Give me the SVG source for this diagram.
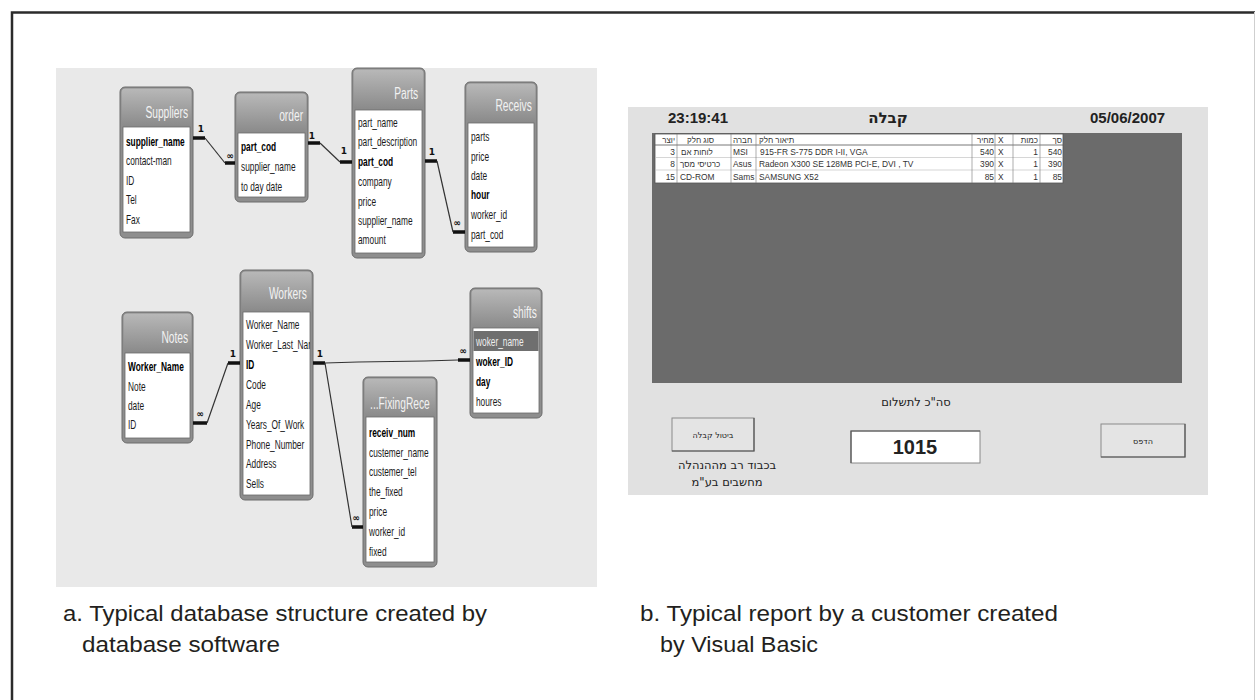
<svg xmlns="http://www.w3.org/2000/svg" width="1255" height="700" viewBox="0 0 1255 700">
<defs>
<linearGradient id="hg" x1="0" y1="0" x2="0" y2="1">
<stop offset="0" stop-color="#b8b8b8"/>
<stop offset="1" stop-color="#8a8a8a"/>
</linearGradient>
<clipPath id="wclip"><rect x="243" y="312" width="67" height="183"/></clipPath>
<style>
.fld{font-family:"Liberation Sans",Arial,sans-serif;font-size:13px;fill:#1a1a1a}
.b{font-weight:bold;fill:#000}
.ttl{font-family:"Liberation Sans",Arial,sans-serif;font-size:16px;fill:#f2f2f2;text-anchor:end}
.frame{fill:#8e8e8e;stroke:#6c6c6c;stroke-width:1}
.hdr{fill:url(#hg)}
.list{fill:#fff;stroke:#6a6a6a;stroke-width:0.8}
.thick{stroke:#111;stroke-width:3.5;fill:none}
.thin{stroke:#333;stroke-width:1.2;fill:none}
.card{font-family:"DejaVu Sans",sans-serif;font-size:9px;font-weight:bold;fill:#111;text-anchor:middle}
.tb{font-family:"Liberation Sans","DejaVu Sans",sans-serif;font-size:8.4px;fill:#333}
.he{font-family:"Liberation Sans","DejaVu Sans",sans-serif;font-size:8px;fill:#333}
.big{font-family:"Liberation Sans",Arial,sans-serif;font-weight:bold;fill:#222}
.heb{font-family:"DejaVu Sans","Liberation Sans",sans-serif;fill:#222}
.btn{fill:#e4e4e4;stroke:#8a8a8a;stroke-width:1}
.cap{font-family:"Liberation Sans",Arial,sans-serif;font-size:22px;fill:#231f20}
</style>
</defs>
<rect x="0" y="0" width="1255" height="700" fill="#ffffff"/>
<path d="M12,700 V12.5 H1255" fill="none" stroke="#2b2b2b" stroke-width="2.5"/>
<line x1="1254.5" y1="12" x2="1254.5" y2="700" stroke="#cfcfcf" stroke-width="1"/>

<!-- left panel -->
<rect x="56" y="68" width="541" height="519" fill="#e9e9e9"/>

<g id="suppliers">
<rect class="frame" x="120" y="87" width="73" height="151" rx="5"/>
<rect class="hdr" x="121.5" y="88.5" width="70" height="38" rx="4"/>
<rect class="list" x="123" y="127" width="67" height="105"/>
<g transform="translate(126,0) scale(0.64,1)">
<text class="ttl" x="97" y="118">Suppliers</text>
<text class="fld b" x="0" y="146">supplier_name</text>
<text class="fld" x="0" y="165.5">contact-man</text>
<text class="fld" x="0" y="185">ID</text>
<text class="fld" x="0" y="204.5">Tel</text>
<text class="fld" x="0" y="224">Fax</text>
</g>
</g>

<g id="order">
<rect class="frame" x="235" y="92" width="73" height="110" rx="5"/>
<rect class="hdr" x="236.5" y="93.5" width="70" height="39" rx="4"/>
<rect class="list" x="238" y="133" width="67" height="64"/>
<g transform="translate(241,0) scale(0.64,1)">
<text class="ttl" x="97" y="121">order</text>
<text class="fld b" x="0" y="151">part_cod</text>
<text class="fld" x="0" y="171">supplier_name</text>
<text class="fld" x="0" y="191">to day date</text>
</g>
</g>

<g id="parts">
<rect class="frame" x="352" y="68" width="73" height="190" rx="5"/>
<rect class="hdr" x="353.5" y="69.5" width="70" height="40" rx="4"/>
<rect class="list" x="355" y="110" width="67" height="143"/>
<g transform="translate(358,0) scale(0.64,1)">
<text class="ttl" x="94" y="99">Parts</text>
<text class="fld" x="0" y="127">part_name</text>
<text class="fld" x="0" y="146">part_description</text>
<text class="fld b" x="0" y="166">part_cod</text>
<text class="fld" x="0" y="186">company</text>
<text class="fld" x="0" y="206">price</text>
<text class="fld" x="0" y="225">supplier_name</text>
<text class="fld" x="0" y="244">amount</text>
</g>
</g>

<g id="receivs">
<rect class="frame" x="465" y="82" width="72" height="170" rx="5"/>
<rect class="hdr" x="466.5" y="83.5" width="69" height="39" rx="4"/>
<rect class="list" x="468" y="123" width="66" height="124"/>
<g transform="translate(471,0) scale(0.64,1)">
<text class="ttl" x="95" y="111">Receivs</text>
<text class="fld" x="0" y="141">parts</text>
<text class="fld" x="0" y="161">price</text>
<text class="fld" x="0" y="180">date</text>
<text class="fld b" x="0" y="199">hour</text>
<text class="fld" x="0" y="219">worker_id</text>
<text class="fld" x="0" y="239">part_cod</text>
</g>
</g>

<g id="notes">
<rect class="frame" x="122" y="312" width="71" height="131" rx="5"/>
<rect class="hdr" x="123.5" y="313.5" width="68" height="39" rx="4"/>
<rect class="list" x="125" y="353" width="65" height="85"/>
<g transform="translate(128,0) scale(0.64,1)">
<text class="ttl" x="94" y="343">Notes</text>
<text class="fld b" x="0" y="371">Worker_Name</text>
<text class="fld" x="0" y="391">Note</text>
<text class="fld" x="0" y="410">date</text>
<text class="fld" x="0" y="429">ID</text>
</g>
</g>

<g id="workers">
<rect class="frame" x="240" y="270" width="73" height="230" rx="5"/>
<rect class="hdr" x="241.5" y="271.5" width="70" height="40" rx="4"/>
<rect class="list" x="243" y="312" width="67" height="183"/>
<g clip-path="url(#wclip)">
<g transform="translate(246,0) scale(0.64,1)">
<text class="fld" x="0" y="329">Worker_Name</text>
<text class="fld" x="0" y="349">Worker_Last_Nar</text>
<text class="fld b" x="0" y="369">ID</text>
<text class="fld" x="0" y="389">Code</text>
<text class="fld" x="0" y="409">Age</text>
<text class="fld" x="0" y="429">Years_Of_Work</text>
<text class="fld" x="0" y="449">Phone_Number</text>
<text class="fld" x="0" y="468">Address</text>
<text class="fld" x="0" y="488">Sells</text>
</g>
</g>
<g transform="translate(246,0) scale(0.64,1)">
<text class="ttl" x="95" y="299">Workers</text>
</g>
</g>

<g id="shifts">
<rect class="frame" x="470" y="288" width="72" height="130" rx="5"/>
<rect class="hdr" x="471.5" y="289.5" width="69" height="38" rx="4"/>
<rect class="list" x="473" y="328" width="66" height="85"/>
<rect x="473.5" y="331" width="65" height="20" fill="#6f6f6f"/>
<g transform="translate(476,0) scale(0.64,1)">
<text class="ttl" x="95" y="318">shifts</text>
<text class="fld" x="0" y="346" style="fill:#eeeeee">woker_name</text>
<text class="fld b" x="0" y="366">woker_ID</text>
<text class="fld b" x="0" y="386">day</text>
<text class="fld" x="0" y="406">houres</text>
</g>
</g>

<g id="fixingrece">
<rect class="frame" x="363" y="377" width="74" height="190" rx="5"/>
<rect class="hdr" x="364.5" y="378.5" width="71" height="38" rx="4"/>
<rect class="list" x="366" y="417" width="68" height="145"/>
<g transform="translate(369,0) scale(0.64,1)">
<text class="ttl" x="95" y="409">...FixingRece</text>
<text class="fld b" x="0" y="437">receiv_num</text>
<text class="fld" x="0" y="457">custemer_name</text>
<text class="fld" x="0" y="476">custemer_tel</text>
<text class="fld" x="0" y="496">the_fixed</text>
<text class="fld" x="0" y="516">price</text>
<text class="fld" x="0" y="536">worker_id</text>
<text class="fld" x="0" y="556">fixed</text>
</g>
</g>

<g id="connectors">
<path class="thick" d="M193,138 H205 M225,163 H235"/>
<path class="thin" d="M205,138 L225,163"/>
<text class="card" x="201" y="132">1</text>
<text class="card" x="230" y="159">∞</text>

<path class="thick" d="M308,143 H320 M340,162 H352"/>
<path class="thin" d="M320,143 L340,162"/>
<text class="card" x="312" y="139">1</text>
<text class="card" x="344" y="154">1</text>

<path class="thick" d="M425,161 H437 M453,232 H465"/>
<path class="thin" d="M437,161 L453,232"/>
<text class="card" x="432" y="155">1</text>
<text class="card" x="457" y="226">∞</text>

<path class="thick" d="M193,423 H207 M228,363 H240"/>
<path class="thin" d="M207,423 L228,363"/>
<text class="card" x="200" y="417">∞</text>
<text class="card" x="233" y="357">1</text>

<path class="thick" d="M313,363 H325 M458,360 H470 M352,527 H363"/>
<path class="thin" d="M325,363 L358,362 L425,361 L458,360 M325,363 L352,527"/>
<text class="card" x="320" y="357">1</text>
<text class="card" x="463" y="354">∞</text>
<text class="card" x="356" y="521">∞</text>
</g>

<!-- right panel -->
<rect x="628" y="107" width="580" height="388" fill="#e1e1e1"/>
<rect x="652" y="133" width="530" height="250" fill="#6b6b6b"/>
<text class="big" x="668" y="123" font-size="15">23:19:41</text>
<text class="big" x="888" y="123" font-size="15" text-anchor="middle" style="font-family:'DejaVu Sans','Liberation Sans',sans-serif">קבלה</text>
<text class="big" x="1090" y="123" font-size="15">05/06/2007</text>

<g id="report-table">
<rect x="655" y="134" width="408" height="49" fill="#ffffff" stroke="#555" stroke-width="0.8"/>
<path d="M655,145 H1063" stroke="#555" stroke-width="0.8"/>
<path d="M655,157.5 H1063 M655,170 H1063" stroke="#bbb" stroke-width="0.6"/>
<path d="M677,134 V183 M731,134 V183 M756,134 V183 M972,134 V183 M995,134 V183 M1013,134 V183 M1040,134 V183" stroke="#777" stroke-width="0.6"/>
<text class="he" x="675" y="142.5" text-anchor="end">יוצר</text>
<text class="he" x="687" y="142.5">סוג חלק</text>
<text class="he" x="733" y="142.5">חברה</text>
<text class="he" x="759" y="142.5">תיאור חלק</text>
<text class="he" x="994" y="142.5" text-anchor="end">מחיר</text>
<text class="tb" x="998" y="142.5">X</text>
<text class="he" x="1038" y="142.5" text-anchor="end">כמות</text>
<text class="he" x="1062" y="142.5" text-anchor="end">סך</text>

<text class="tb" x="675" y="154.5" text-anchor="end">3</text>
<text class="he" x="681" y="154.5">לוחות אם</text>
<text class="tb" x="733" y="154.5">MSI</text>
<text class="tb" x="760" y="154.5">915-FR S-775 DDR I-II, VGA</text>
<text class="tb" x="994" y="154.5" text-anchor="end">540</text>
<text class="tb" x="998" y="154.5">X</text>
<text class="tb" x="1038" y="154.5" text-anchor="end">1</text>
<text class="tb" x="1062" y="154.5" text-anchor="end">540</text>

<text class="tb" x="675" y="167" text-anchor="end">8</text>
<text class="he" x="680" y="167">כרטיסי מסך</text>
<text class="tb" x="733" y="167">Asus</text>
<text class="tb" x="759" y="167">Radeon X300 SE 128MB PCI-E, DVI , TV</text>
<text class="tb" x="994" y="167" text-anchor="end">390</text>
<text class="tb" x="998" y="167">X</text>
<text class="tb" x="1038" y="167" text-anchor="end">1</text>
<text class="tb" x="1062" y="167" text-anchor="end">390</text>

<text class="tb" x="675" y="179.5" text-anchor="end">15</text>
<text class="tb" x="680" y="179.5">CD-ROM</text>
<text class="tb" x="733" y="179.5">Sams</text>
<text class="tb" x="759" y="179.5">SAMSUNG X52</text>
<text class="tb" x="994" y="179.5" text-anchor="end">85</text>
<text class="tb" x="998" y="179.5">X</text>
<text class="tb" x="1038" y="179.5" text-anchor="end">1</text>
<text class="tb" x="1062" y="179.5" text-anchor="end">85</text>
</g>

<text class="heb" x="916" y="406" font-size="11.5" text-anchor="middle" direction="rtl">סה"כ לתשלום</text>

<g id="btn-cancel">
<rect class="btn" x="672" y="418" width="82" height="33"/>
<path d="M672,451 H754 V418" stroke="#555" stroke-width="1.2" fill="none"/>
<text class="heb" x="713" y="438" font-size="8" text-anchor="middle" direction="rtl">ביטול קבלה</text>
</g>

<g id="total-box">
<rect x="851" y="431" width="129" height="32" fill="#ffffff" stroke="#888" stroke-width="1"/>
<path d="M851,463 V431 H980" stroke="#555" stroke-width="1.2" fill="none"/>
<text class="big" x="915" y="454" font-size="20" text-anchor="middle">1015</text>
</g>

<g id="btn-print">
<rect class="btn" x="1101" y="424" width="84" height="33"/>
<path d="M1101,457 H1185 V424" stroke="#555" stroke-width="1.2" fill="none"/>
<text class="heb" x="1143" y="444" font-size="8" text-anchor="middle" direction="rtl">הדפס</text>
</g>

<text class="heb" x="727" y="469" font-size="11.5" text-anchor="middle" direction="rtl">בכבוד רב מההנהלה</text>
<text class="heb" x="727" y="486" font-size="11.5" text-anchor="middle" direction="rtl">מחשבים בע"מ</text>

<!-- captions -->
<text class="cap" x="63" y="621" textLength="424" lengthAdjust="spacingAndGlyphs">a. Typical database structure created by</text>
<text class="cap" x="82" y="652" textLength="198" lengthAdjust="spacingAndGlyphs">database software</text>
<text class="cap" x="640" y="621" textLength="418" lengthAdjust="spacingAndGlyphs">b. Typical report by a customer created</text>
<text class="cap" x="660" y="652" textLength="158" lengthAdjust="spacingAndGlyphs">by Visual Basic</text>
</svg>
